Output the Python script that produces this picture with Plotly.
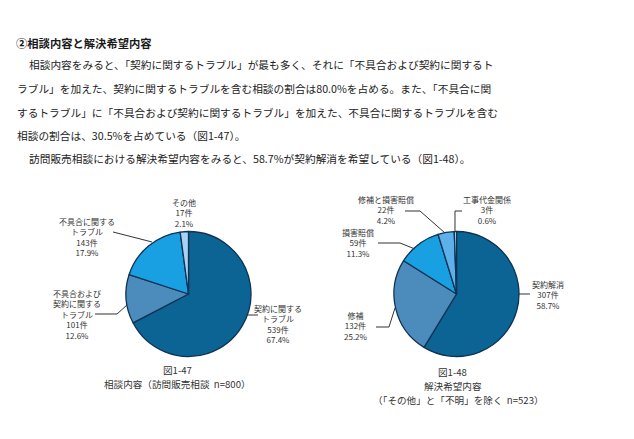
import plotly.graph_objects as go

# page body has an 8px margin, so the figure is 16px smaller than the window
OFF = 8
W, H = 634 - 2 * OFF, 439 - 2 * OFF

# ---- data ----
heading = "②相談内容と解決希望内容"
body_lines = [
    "相談内容をみると、「契約に関するトラブル」が最も多く、それに「不具合および契約に関するト",
    "ラブル」を加えた、契約に関するトラブルを含む相談の割合は80.0%を占める。また、「不具合に関",
    "するトラブル」に「不具合および契約に関するトラブル」を加えた、不具合に関するトラブルを含む",
    "相談の割合は、30.5%を占めている（図1-47）。",
    "訪問販売相談における解決希望内容をみると、58.7%が契約解消を希望している（図1-48）。",
]

cats1 = ["契約に関する<br>トラブル", "不具合および<br>契約に関する<br>トラブル", "不具合に関する<br>トラブル", "その他"]
counts1 = [539, 101, 143, 17]
pct1 = [67.4, 12.6, 17.9, 2.1]
title1 = ["図1-47", "相談内容（訪問販売相談  n=800）"]

cats2 = ["契約解消", "修補", "損害賠償", "修補と損害賠償", "工事代金関係"]
counts2 = [307, 132, 59, 22, 3]
pct2 = [58.7, 25.2, 11.3, 4.2, 0.6]
title2 = ["図1-48", "解決希望内容", "（「その他」と「不明」を除く  n=523）"]

# ---- style ----
colors1 = ["#0b6494", "#4b8cbd", "#18a0e2", "#a9d3f3"]
colors2 = ["#0b6494", "#4b8cbd", "#18a0e2", "#5db0ea", "#cfe6f8"]
edge = "#0f3354"
FONT = "Noto Sans CJK JP"

def px(x):
    return (x - OFF) / W

def py(y):
    return 1 - (y - OFF) / H

fig = go.Figure()

fig.add_trace(go.Pie(
    values=counts1, labels=[c.replace("<br>", "") for c in cats1],
    sort=False, direction="clockwise", rotation=0,
    marker=dict(colors=colors1, line=dict(color=edge, width=1.3)),
    textinfo="none", hoverinfo="skip", showlegend=False,
    domain=dict(x=[px(126), px(251)], y=[py(356.5), py(231.5)]),
))
fig.add_trace(go.Pie(
    values=counts2, labels=cats2,
    sort=False, direction="clockwise", rotation=0,
    marker=dict(colors=colors2, line=dict(color=edge, width=1.3)),
    textinfo="none", hoverinfo="skip", showlegend=False,
    domain=dict(x=[px(394), px(519)], y=[py(356.5), py(231.5)]),
))

ann = []
# heading + body
ann.append(dict(text="<b>" + heading + "</b>", x=px(14), y=py(43), xanchor="left", yanchor="middle",
                font=dict(size=11.3, color="#1a1a1a", family=FONT)))
body_pos = [(27, 65), (15, 88), (15, 112), (15, 135), (27, 158)]
for line, (bx, by) in zip(body_lines, body_pos):
    ann.append(dict(text=line, x=px(bx), y=py(by), xanchor="left", yanchor="middle",
                    font=dict(size=10.7, color="#222222", family=FONT)))

# pie labels
lab_pos1 = [(278, 324), (77, 314.5), (87, 237), (184, 212.5)]
for c, n, p, (lx, ly) in zip(cats1, counts1, pct1, lab_pos1):
    ann.append(dict(text=f"{c}<br>{n}件<br>{p:.1f}%", x=px(lx), y=py(ly),
                    xanchor="center", yanchor="middle", align="center",
                    font=dict(size=8, color="#333333", family=FONT)))
lab_pos2 = [(548, 294.5), (356, 326), (358, 243), (386, 210), (487, 210)]
for c, n, p, (lx, ly) in zip(cats2, counts2, pct2, lab_pos2):
    ann.append(dict(text=f"{c}<br>{n}件<br>{p:.1f}%", x=px(lx), y=py(ly),
                    xanchor="center", yanchor="middle", align="center",
                    font=dict(size=8, color="#333333", family=FONT)))

# captions
for t, (cx, cy) in zip(title1, [(177, 369.5), (177, 383.5)]):
    ann.append(dict(text=t, x=px(cx), y=py(cy), xanchor="center", yanchor="middle",
                    font=dict(size=9.6, color="#333333", family=FONT)))
for t, (cx, cy) in zip(title2, [(452, 372), (453, 386), (458, 400)]):
    ann.append(dict(text=t, x=px(cx), y=py(cy), xanchor="center", yanchor="middle",
                    font=dict(size=9.6, color="#333333", family=FONT)))

for a in ann:
    a.update(xref="paper", yref="paper", showarrow=False)

# leader lines
leaders = [
    [(247, 315), (258, 315)],
    [(95, 314), (117, 314), (127, 305)],
    [(113, 232), (152, 242)],
    [(519, 294), (530, 294)],
    [(376, 327), (389, 327), (395, 308)],
    [(378, 243), (400, 243), (415, 249)],
    [(405, 211), (420, 211), (445, 233)],
    [(462, 211), (455, 211), (455, 232)],
]
shapes = []
for pts in leaders:
    path = "M " + " L ".join(f"{px(x):.5f},{py(y):.5f}" for x, y in pts)
    shapes.append(dict(type="path", path=path, xref="paper", yref="paper",
                       line=dict(color="#333333", width=1)))

fig.update_layout(
    width=W, height=H,
    margin=dict(l=0, r=0, t=0, b=0),
    paper_bgcolor="white", plot_bgcolor="white",
    annotations=ann, shapes=shapes,
    font=dict(family=FONT),
)

fig.write_html("out.html")
